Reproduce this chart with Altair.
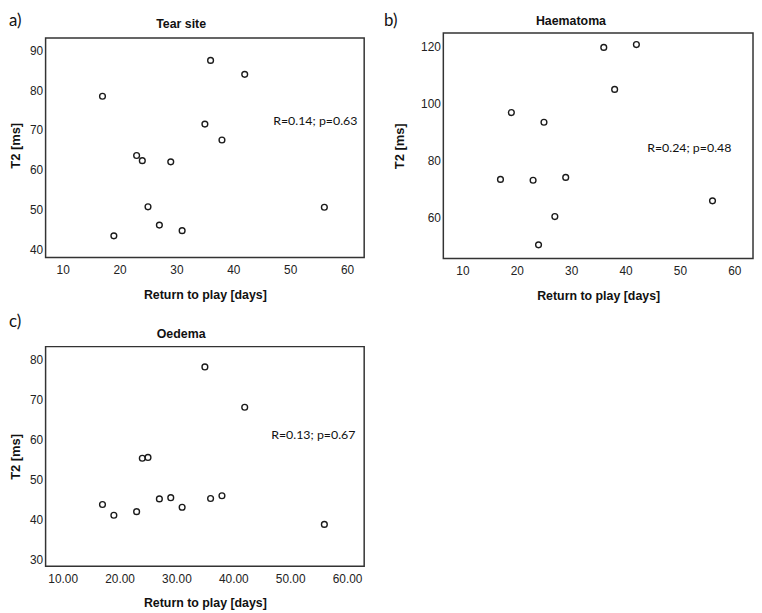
import altair as alt
import pandas as pd

# ---- data ----
days_all = [17, 19, 23, 24, 25, 27, 29, 31, 35, 36, 38, 42, 56]
tear_t2 = [78.5, 43.4, 63.6, 62.3, 50.7, 46.1, 62.0, 44.7, 71.5, 87.5, 67.5, 84.0, 50.6]

days_haem = [17, 19, 23, 24, 25, 27, 29, 36, 38, 42, 56]
haem_t2 = [73.5, 96.9, 73.2, 50.6, 93.5, 60.5, 74.2, 119.7, 105.0, 120.7, 66.0]

days_oed = [17, 19, 23, 24, 25, 27, 29, 31, 35, 36, 38, 42, 56]
oed_t2 = [43.7, 41.0, 41.9, 55.3, 55.5, 45.1, 45.4, 43.0, 78.2, 45.2, 45.9, 68.1, 38.7]

x_ticks = [10, 20, 30, 40, 50, 60]
y_ticks_a = [40, 50, 60, 70, 80, 90]
y_ticks_b = [60, 80, 100, 120]
y_ticks_c = [30, 40, 50, 60, 70, 80]

titles = ["Tear site", "Haematoma", "Oedema"]
labels = ["a)", "b)", "c)"]
stats = ["R=0.14; p=0.63", "R=0.24; p=0.48", "R=0.13; p=0.67"]

X_TITLE = "Return to play [days]"
Y_TITLE = "T2 [ms]"
FRAME = "#333"


def text_layer(txt, x, y, font, size, weight="normal", align="left", baseline="alphabetic"):
    return alt.Chart(pd.DataFrame({"t": [txt]})).mark_text(
        font=font, fontSize=size, fontWeight=weight, align=align,
        baseline=baseline, color="#111"
    ).encode(text="t:N", x=alt.value(x), y=alt.value(y))


def panel(xs, ys, xdom, ydom, yticks, xfmt, w, h, title, title_x, title_y,
          lab, lab_x, lab_y, stat, stat_x, stat_y, ytp, frame_top=None):
    df = pd.DataFrame({"days": xs, "t2": ys})
    pts = alt.Chart(df).mark_point(
        shape="circle", filled=False, size=34, strokeWidth=1.4,
        color="#1a1a1a", opacity=1
    ).encode(
        x=alt.X("days:Q",
                scale=alt.Scale(domain=xdom, nice=False, zero=False),
                axis=alt.Axis(values=x_ticks, format=xfmt, title=X_TITLE)),
        y=alt.Y("t2:Q",
                scale=alt.Scale(domain=ydom, nice=False, zero=False),
                axis=alt.Axis(values=yticks, format="d", title=Y_TITLE,
                              titlePadding=ytp)),
    )
    layers = [pts]
    if frame_top is not None:
        frame = alt.Chart(pd.DataFrame({"f": [0]})).mark_rect(
            fill="transparent", stroke=FRAME, strokeWidth=1.5
        ).encode(x=alt.value(0), x2=alt.value(w), y=alt.value(frame_top), y2=alt.value(h))
        layers.insert(0, frame)
    layers += [
        text_layer(title, title_x, title_y, "Liberation Sans", 12.5, "bold", "center"),
        text_layer(lab, lab_x, lab_y, "Lato", 17, "normal", "left", "top"),
        text_layer(stat, stat_x, stat_y, "Lato", 12.5, "normal", "left", "middle"),
    ]
    ch = alt.layer(*layers).properties(width=w, height=h)
    if frame_top is not None:
        ch = ch.properties(view=alt.ViewBackground(stroke="transparent"))
    return ch


# panel a: view starts 5 px above its frame (aligned with panel b's top)
pa = panel(days_all, tear_t2, [7, 63], [37.94, 94.40], y_ticks_a, "d", 322, 227,
           titles[0], 137, -5, labels[0], -37, -20, stats[0], 230, 89, 7.5, frame_top=5)
pb = panel(days_haem, haem_t2, [6.49, 63.45], [45.8, 124.75], y_ticks_b, "d", 313, 228,
           titles[1], 129, -8, labels[1], -60, -20, stats[1], 206, 116, 14)
pc = panel(days_oed, oed_t2, [7, 63], [28.2, 83.3], y_ticks_c, ".2f", 322, 222,
           titles[2], 137, -9, labels[2], -37, -33, stats[2], 228, 89, 7.5)

chart = alt.concat(
    pa, pb, pc, columns=2, spacing={"row": 89, "column": 80}, bounds="flush"
).properties(
    padding={"left": 0, "top": 0, "right": 0, "bottom": 0}
).configure_view(
    stroke=FRAME, strokeWidth=1.5
).configure_axis(
    domain=False, ticks=False, tickSize=0, grid=False,
    labelFont="Liberation Sans", labelFontSize=12, labelColor="#222",
    titleFont="Liberation Sans", titleFontWeight="bold", titleColor="#111",
).configure_axisX(
    labelPadding=7, titlePadding=13, titleFontSize=12.5
).configure_axisY(
    labelPadding=3, titleFontSize=13
)

chart.save("out.html", embed_options={"renderer": "svg", "actions": False})
